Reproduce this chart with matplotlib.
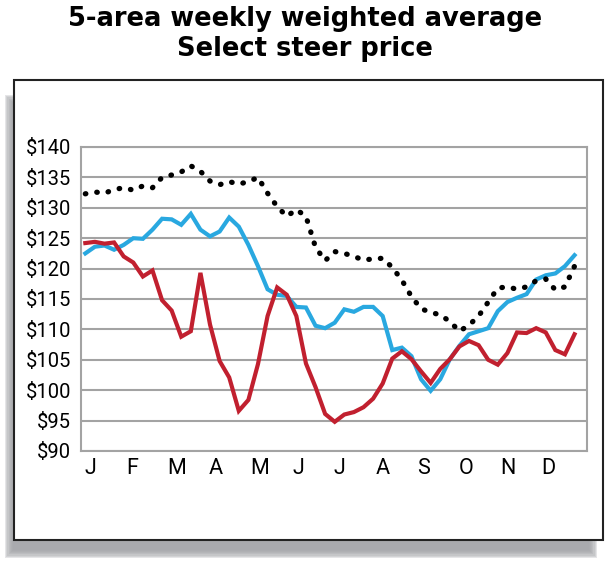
import numpy as np
from matplotlib import pyplot as plt
from matplotlib.patches import Rectangle

# weekly prices, $/cwt (52 weeks)
blue = [122.5, 123.6, 123.8, 123.1, 123.9, 125.0, 124.9, 126.4, 128.2, 128.1,
        127.2, 129.0, 126.4, 125.3, 126.1, 128.4, 126.9, 123.9, 120.4, 116.6,
        115.7, 115.5, 113.7, 113.6, 110.6, 110.2, 111.1, 113.3, 112.9, 113.7,
        113.7, 112.2, 106.6, 107.0, 105.6, 101.8, 99.9, 101.8, 105.1, 107.3,
        109.2, 109.7, 110.2, 113.0, 114.5, 115.2, 115.8, 118.2, 118.9, 119.2,
        120.4, 122.2]
red = [124.2, 124.4, 124.1, 124.3, 122.0, 121.0, 118.7, 119.7, 114.8, 113.1,
       108.8, 109.7, 119.3, 110.8, 104.8, 102.1, 96.6, 98.4, 104.3, 112.2,
       116.9, 115.7, 112.2, 104.4, 100.5, 96.1, 94.8, 96.0, 96.4, 97.2,
       98.6, 101.1, 105.2, 106.4, 105.1, 103.1, 101.2, 103.5, 105.1, 107.2,
       108.1, 107.4, 105.0, 104.2, 106.1, 109.5, 109.4, 110.2, 109.5, 106.6,
       105.9, 109.2]
black = [132.3, 132.6, 132.4, 133.0, 133.3, 132.9, 133.6, 133.3, 135.0, 135.4,
         135.9, 136.9, 136.0, 134.4, 133.8, 134.3, 133.9, 134.3, 135.0, 132.4,
         130.2, 128.6, 129.7, 128.6, 123.5, 121.3, 122.8, 122.5, 122.0, 121.4,
         121.6, 121.7, 120.2, 118.1, 115.4, 113.4, 112.8, 112.4, 111.3, 109.7,
         110.7, 112.2, 114.5, 116.8, 117.0, 116.6, 117.0, 118.0, 118.3, 116.5,
         117.0, 120.4]
months = ["J", "F", "M", "A", "M", "J", "J", "A", "S", "O", "N", "D"]
yticks = [90, 95, 100, 105, 110, 115, 120, 125, 130, 135, 140]

weeks = np.arange(len(blue))
W, H = 610, 568

fig = plt.figure(figsize=(W / 100, H / 100), dpi=100)

# shadow behind the frame (left and bottom), soft edges
for k in range(8):
    g = k * 1.2
    fig.patches.append(Rectangle(((5 + g) / W, 1 - (558 - g) / H),
                                 (592 - 2 * g) / W, (463 - 2 * g) / H,
                                 transform=fig.transFigure, facecolor="#a4a5a9",
                                 edgecolor="none", alpha=0.28, zorder=0))
# white frame with black border
fig.patches.append(Rectangle((14 / W, 1 - 540 / H), 589 / W, 460 / H,
                             transform=fig.transFigure, facecolor="white",
                             edgecolor="#222222", linewidth=1.5, zorder=1))

# title
tfont = dict(family="DejaVu Sans", fontweight="bold", fontsize=18.5,
             ha="center", va="center")
fig.text(0.5, 1 - 19 / H, "5-area weekly weighted average", **tfont)
fig.text(0.5, 1 - 49 / H, "Select steer price", **tfont)

ax = fig.add_axes([81 / W, 1 - 451 / H, 506 / W, 304 / H], zorder=2)
ax.set_facecolor("white")

ax.plot(weeks, blue, color="#29a8e0", lw=3.0, solid_joinstyle="miter")
ax.plot(weeks, red, color="#c1202f", lw=3.0, solid_joinstyle="miter")
ax.plot(weeks, black, color="black", lw=3.8, linestyle=(0, (0.1, 2.1)),
        dash_capstyle="round")

ax.set_xlim(-0.45, 52.3)
ax.set_ylim(90, 140)
ax.set_yticks(yticks)
ax.grid(axis="y", color="#a3a3a3", lw=1.5)
ax.set_axisbelow(True)
for s in ax.spines.values():
    s.set_color("#a3a3a3")
    s.set_linewidth(1.5)

tick_font = ["Roboto", "DejaVu Sans"]
ax.set_yticklabels(["$%d" % v for v in yticks], family=tick_font, fontsize=14.5)
ax.tick_params(axis="y", length=0, pad=7)

ax.set_xticks(np.arange(12) * 52 / 12 - 0.1)
ax.set_xticklabels(months, family=tick_font, fontsize=15.5, ha="left")
ax.tick_params(axis="x", length=0, pad=5)

plt.savefig("out.png", dpi=100)
